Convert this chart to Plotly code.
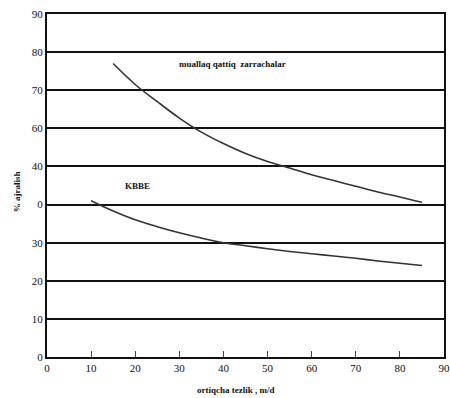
import plotly.graph_objects as go

# upper curve: suspended solids
upper_x = [15, 20, 25, 30, 35, 40, 45, 50, 55, 60, 65, 70, 75, 80, 85]
upper_y = [77, 71.5, 67, 62.7, 59, 56, 53.4, 51.3, 49.6, 47.8, 46.3, 44.8, 43.3, 42, 40.6]

# lower curve: KBBE
lower_x = [10, 15, 20, 25, 30, 35, 40, 45, 50, 55, 60, 65, 70, 75, 80, 85]
lower_y = [41, 38.3, 36, 34.2, 32.6, 31.2, 30, 29.2, 28.4, 27.7, 27.1, 26.5, 25.9, 25.2, 24.6, 24]

x_ticks = [0, 10, 20, 30, 40, 50, 60, 70, 80, 90]
y_ticks = [0, 10, 20, 30, 40, 50, 60, 70, 80, 90]
y_ticktext = ["0", "10", "20", "30", "0", "40", "60", "70", "80", "90"]

serif = "Liberation Serif, Times New Roman, serif"

fig = go.Figure()
fig.add_trace(go.Scatter(x=upper_x, y=upper_y, mode="lines", line=dict(color="#333", width=1.6, shape="spline"), showlegend=False))
fig.add_trace(go.Scatter(x=lower_x, y=lower_y, mode="lines", line=dict(color="#333", width=1.6, shape="spline"), showlegend=False))

fig.add_annotation(x=42, y=77, text="<b>muallaq qattiq  zarrachalar</b>", showarrow=False,
                   font=dict(family=serif, size=9, color="#111"))
fig.add_annotation(x=20.5, y=45, text="<b>KBBE</b>", showarrow=False,
                   font=dict(family=serif, size=9, color="#111"))
fig.add_annotation(x=0, y=0.48, xref="paper", yref="paper", xshift=-37,
                   text="<b>% ajralish</b>", textangle=-90, showarrow=False,
                   font=dict(family=serif, size=9, color="#111"))
fig.add_annotation(x=0.476, y=0, xref="paper", yref="paper", yanchor="middle", yshift=-33,
                   text="<b>ortiqcha tezlik , m/d</b>", showarrow=False,
                   font=dict(family=serif, size=9, color="#111"))

fig.update_xaxes(range=[0, 90], tickvals=x_ticks, ticks="inside", ticklen=6, tickcolor="#444",
                 showgrid=False, showline=True, linecolor="#111", linewidth=2, mirror=True,
                 zeroline=False, automargin=False, ticklabeloverflow="allow",
                 tickfont=dict(family=serif, size=11, color="#111"))
fig.update_yaxes(range=[0, 90], tickvals=y_ticks, ticktext=y_ticktext, ticks="",
                 showgrid=True, gridcolor="#111", gridwidth=2,
                 showline=True, linecolor="#111", linewidth=2, mirror=True,
                 zeroline=False, automargin=False, ticklabeloverflow="allow",
                 tickfont=dict(family=serif, size=11, color="#111"))

fig.update_layout(width=450, height=398, plot_bgcolor="white", paper_bgcolor="white",
                  margin=dict(l=47, r=6, t=14, b=41))

# drop the default page margin so the figure fills the window exactly
fig.write_html("out.html", config={"displayModeBar": False},
               post_script="document.body.style.margin='0';document.body.style.overflow='hidden';")
